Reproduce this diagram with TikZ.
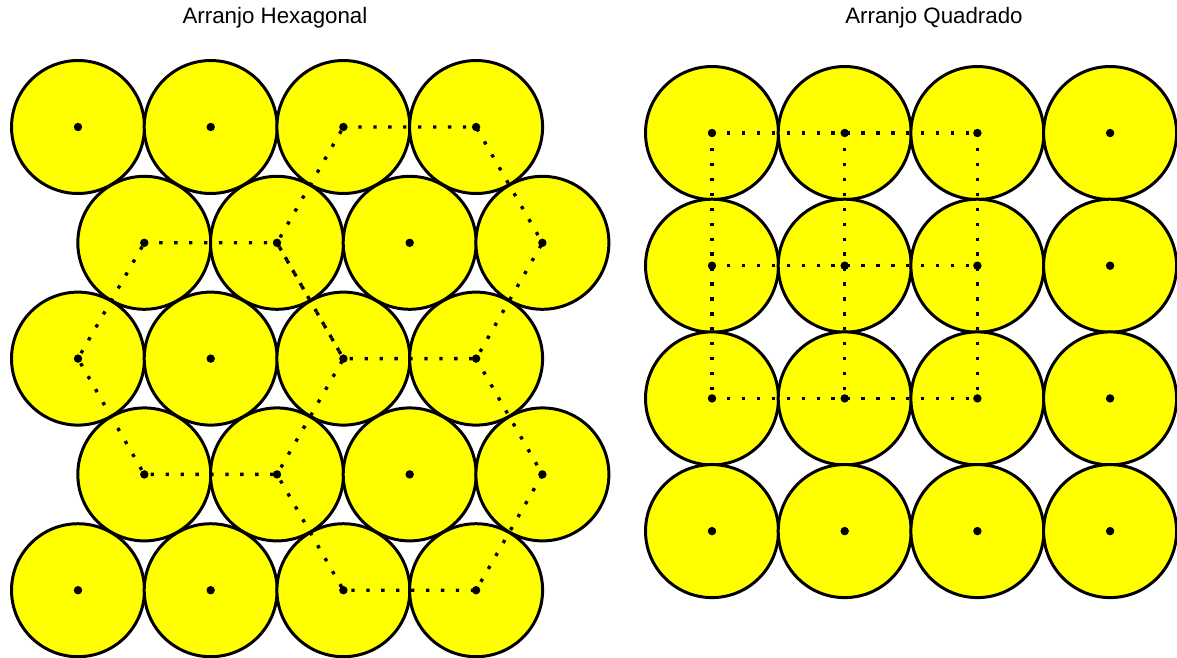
\documentclass[tikz,border=0pt]{standalone}
\usepackage{fontspec}
\setmainfont{Liberation Sans}
\usetikzlibrary{positioning}
\definecolor{grainfill}{RGB}{255,255,0}

\begin{document}
\begin{tikzpicture}[
    x=0.02cm, y=-0.02cm,
    grain/.style={circle, draw, line width=1.7pt, fill=grainfill, minimum size=2.66cm, inner sep=0pt},
    link/.style={line width=1.9pt, dash pattern=on 1.9pt off 6.6pt},
    title/.style={font=\fontsize{12.7}{15}\selectfont}
]
\useasboundingbox (0,0) rectangle (1177,657);

% Titles
\node[title] (tH) at (275,18) {Arranjo Hexagonal};
\node[title] (tQ) at (934,18) {Arranjo Quadrado};

% Hexagonal packing
\foreach \r in {0,...,4}
  \foreach \c in {0,...,3} {
    \pgfmathsetmacro{\xx}{78 + 132.7*\c + 66.3*mod(\r,2)}
    \node[grain] (h\r\c) at (\xx, 127+115.8*\r) {};
  }

% Square packing
\foreach \r in {0,...,3}
  \foreach \c in {0,...,3}
    \node[grain] (s\r\c) at (712+132.7*\c, 133+132.7*\r) {};

% Hexagons
\draw[link] (h02.center) -- (h03.center) -- (h13.center) -- (h23.center) -- (h22.center) -- (h11.center) -- cycle;
\draw[link] (h10.center) -- (h11.center) -- (h22.center) -- (h31.center) -- (h30.center) -- (h20.center) -- cycle;
\draw[link] (h23.center) -- (h33.center) -- (h43.center) -- (h42.center) -- (h31.center);

% Squares
\draw[link] (s00.center) -- (s02.center);
\draw[link] (s10.center) -- (s12.center);
\draw[link] (s20.center) -- (s22.center);
\draw[link] (s00.center) -- (s20.center);
\draw[link] (s01.center) -- (s21.center);
\draw[link] (s02.center) -- (s22.center);

% Centres
\foreach \r in {0,...,4}
  \foreach \c in {0,...,3}
    \fill (h\r\c) circle (2.4pt);
\foreach \r in {0,...,3}
  \foreach \c in {0,...,3}
    \fill (s\r\c) circle (2.4pt);

\end{tikzpicture}
\end{document}
